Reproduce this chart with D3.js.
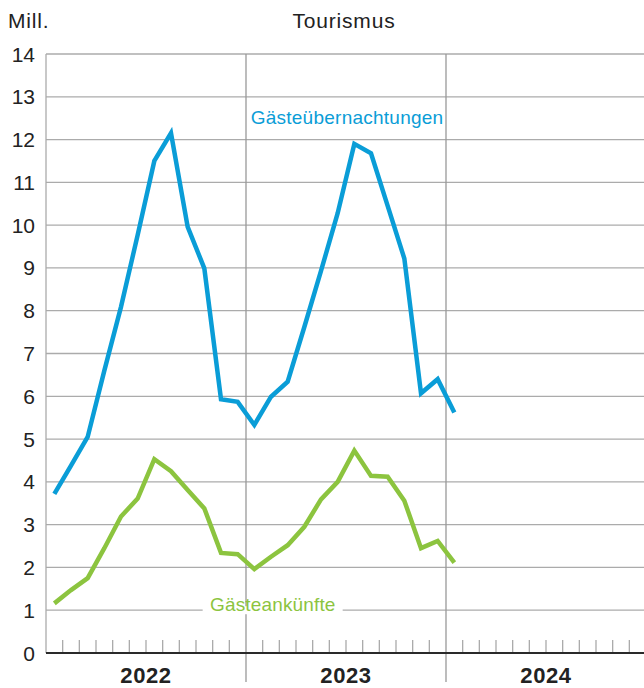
<!DOCTYPE html>
<html><head><meta charset="utf-8">
<script src="https://cdn.jsdelivr.net/npm/d3@7"></script>
<style>
html,body{margin:0;padding:0;background:#fff;}
svg{display:block;font-family:"Liberation Sans",Arial,sans-serif;}
</style></head>
<body>
<svg id="chart" width="644" height="688"></svg>
<script>
// ---- data ----
const years = ["2022", "2023", "2024"];
const months = ["Jan 2022","Feb 2022","Mrz 2022","Apr 2022","Mai 2022","Jun 2022","Jul 2022","Aug 2022","Sep 2022","Okt 2022","Nov 2022","Dez 2022",
                "Jan 2023","Feb 2023","Mrz 2023","Apr 2023","Mai 2023","Jun 2023","Jul 2023","Aug 2023","Sep 2023","Okt 2023","Nov 2023","Dez 2023",
                "Jan 2024"];
const uebernachtungen = [3.72, 4.38, 5.05, 6.6, 8.09, 9.77, 11.5, 12.15, 9.96, 8.99, 5.93, 5.87,
                         5.33, 5.99, 6.34, 7.62, 8.93, 10.28, 11.9, 11.68, 10.45, 9.22, 6.07, 6.4,
                         5.62];
const ankuenfte = [1.16, 1.47, 1.75, 2.45, 3.19, 3.61, 4.53, 4.25, 3.81, 3.38, 2.34, 2.31,
                   1.96, 2.25, 2.52, 2.95, 3.59, 4.0, 4.73, 4.14, 4.12, 3.56, 2.45, 2.62,
                   2.11];
const yTicks = [0,1,2,3,4,5,6,7,8,9,10,11,12,13,14];
const seriesNames = ["Gästeübernachtungen", "Gästeankünfte"];

(function () {
// ---- layout ----
const svg = d3.select("#chart");
const mLeft = 46, mRight = 646, mTop = 54, mBottom = 653;
const x = d3.scaleLinear().domain([0, 36]).range([mLeft, mRight]);
const y = d3.scaleLinear().domain([0, 14]).range([mBottom, mTop]);
const grid = "#ababab";
const blue = "#0a9dd7", green = "#8cc43f";

// horizontal gridlines
svg.append("g").selectAll("line").data(yTicks.filter(d => d > 0)).join("line")
  .attr("x1", mLeft).attr("x2", 644)
  .attr("y1", d => y(d)).attr("y2", d => y(d))
  .attr("stroke", grid).attr("stroke-width", 1.3);

// left axis line
svg.append("line").attr("x1", mLeft).attr("x2", mLeft).attr("y1", mTop).attr("y2", mBottom)
  .attr("stroke", grid).attr("stroke-width", 1.3);

// year dividers (extend below axis)
svg.append("g").selectAll("line").data([12, 24, 36]).join("line")
  .attr("x1", d => x(d)).attr("x2", d => x(d))
  .attr("y1", mTop).attr("y2", 682)
  .attr("stroke", "#999").attr("stroke-width", 1.3);

// month ticks
const monthTicks = d3.range(1, 36).filter(d => d % 12 !== 0);
svg.append("g").selectAll("line").data(monthTicks).join("line")
  .attr("x1", d => x(d)).attr("x2", d => x(d))
  .attr("y1", mBottom - 13).attr("y2", mBottom)
  .attr("stroke", "#aaa").attr("stroke-width", 1.3);

// baseline axis
svg.append("line").attr("x1", mLeft).attr("x2", 644).attr("y1", mBottom).attr("y2", mBottom)
  .attr("stroke", "#2a2a2a").attr("stroke-width", 2.2);

// y tick labels
svg.append("g").selectAll("text").data(yTicks).join("text")
  .attr("x", 35).attr("y", d => y(d)).attr("dy", "0.36em")
  .attr("text-anchor", "end").attr("font-size", 21).attr("fill", "#222")
  .text(d => d);

// year labels
svg.append("g").selectAll("text").data(years).join("text")
  .attr("x", (d, i) => x(i * 12 + 6)).attr("y", 683)
  .attr("text-anchor", "middle").attr("font-size", 22).attr("font-weight", "bold")
  .attr("letter-spacing", 0.6).attr("fill", "#222")
  .text(d => d);

// titles
svg.append("text").attr("x", 8).attr("y", 28).attr("font-size", 21).attr("fill", "#222")
  .attr("letter-spacing", 0.8).text("Mill.");
svg.append("text").attr("x", 344).attr("y", 28).attr("text-anchor", "middle")
  .attr("font-size", 21).attr("letter-spacing", 0.8).attr("fill", "#222").text("Tourismus");

// lines
const line = d3.line().x((d, i) => x(i + 0.5)).y(d => y(d));
svg.append("path").datum(ankuenfte).attr("d", line)
  .attr("fill", "none").attr("stroke", green).attr("stroke-width", 4.5).attr("stroke-linejoin", "miter");
svg.append("path").datum(uebernachtungen).attr("d", line)
  .attr("fill", "none").attr("stroke", blue).attr("stroke-width", 4.5).attr("stroke-linejoin", "miter");

// series labels
svg.append("text").attr("x", x(12.28)).attr("y", y(12.36))
  .attr("font-size", 19).attr("letter-spacing", 0.25).attr("fill", blue).text(seriesNames[0]);

const gl = svg.append("g");
gl.append("rect").attr("x", x(9.4)).attr("y", y(1) - 4).attr("width", x(17.8) - x(9.4)).attr("height", 8)
  .attr("fill", "#fff");
gl.append("text").attr("x", x(9.84)).attr("y", y(0.99))
  .attr("font-size", 19).attr("letter-spacing", 0.15).attr("fill", green).text(seriesNames[1]);
})();
</script>
</body></html>
